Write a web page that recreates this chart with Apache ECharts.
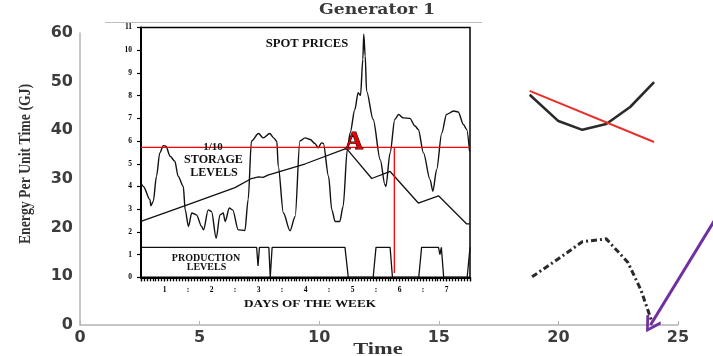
<!DOCTYPE html>
<html>
<head>
<meta charset="utf-8">
<script src="https://cdn.jsdelivr.net/npm/echarts@6/dist/echarts.min.js"></script>
<style>
  html, body { margin: 0; padding: 0; background: #fff; }
  #main { width: 713px; height: 356px; }
</style>
</head>
<body>
<div id="main"></div>
<script>
// outer chart (Generator 1)
const outerSolid = [[18.8, 47.3], [20, 41.9], [21, 40.1], [22, 41.3], [23, 44.8], [24, 49.9]];
const outerRed = [[18.8, 48.1], [24, 37.6]];
const outerDashDot = [[18.9, 9.9], [20, 13.6], [21, 17.1], [22, 17.7], [22.9, 12.9], [23.45, 7.2], [23.9, 0.8]];
const arrowPts = [[27.0, 25.3], [23.85, 0]];

// inset (spot prices over a week)
const dayLabels = ['1', '2', '3', '4', '5', '6', '7'];
const spotPrices = [
  [0, 4.15], [0.05, 4.0], [0.19, 3.42], [0.21, 3.15], [0.26, 3.34], [0.33, 4.45], [0.4, 5.48],
  [0.475, 5.8], [0.53, 5.77], [0.62, 5.33], [0.72, 5.11], [0.79, 4.45], [0.9, 4.0], [0.94, 2.97],
  [1.01, 2.24], [1.08, 2.83], [1.18, 2.75], [1.29, 2.24], [1.33, 2.09], [1.43, 2.97], [1.5, 2.9],
  [1.6, 1.72], [1.68, 2.75], [1.75, 2.83], [1.79, 2.46], [1.88, 3.05], [1.95, 2.97], [2.07, 2.09],
  [2.21, 2.06], [2.28, 3.42], [2.35, 6.0], [2.5, 6.33], [2.6, 6.14], [2.74, 6.33], [2.82, 6.14],
  [2.89, 5.99], [2.92, 4.89], [3.03, 2.83], [3.17, 2.05], [3.28, 2.68], [3.38, 6.0], [3.49, 6.14],
  [3.6, 6.07], [3.7, 5.89], [3.77, 5.7], [3.84, 5.92], [3.88, 5.89], [3.99, 4.45], [4.06, 2.97],
  [4.13, 2.46], [4.23, 2.46], [4.3, 3.12], [4.39, 5.63], [4.45, 6.36], [4.55, 7.39], [4.62, 8.13],
  [4.67, 8.01], [4.72, 9.6], [4.74, 10.7], [4.77, 9.75], [4.8, 8.2], [4.94, 6.95], [5.09, 5.18],
  [5.19, 4.08], [5.21, 4.0], [5.3, 5.48], [5.4, 6.95], [5.48, 7.17], [5.58, 7.02], [5.72, 7.0],
  [5.83, 6.66], [5.9, 6.51], [6.01, 5.48], [6.15, 4.3], [6.21, 3.79], [6.29, 4.74], [6.4, 6.36],
  [6.5, 7.17], [6.65, 7.32], [6.75, 7.28], [6.86, 6.73], [6.93, 6.51], [6.99, 5.55]
];
const storageLevels = [
  [0, 2.46], [1.0, 3.2], [2.0, 3.95], [2.35, 4.35], [2.5, 4.42], [2.6, 4.4], [2.7, 4.5],
  [3.5, 5.0], [4.37, 5.68], [4.91, 4.35], [5.3, 4.66], [5.9, 3.27], [6.33, 3.59], [6.93, 2.35], [7, 2.35]
];
const productionLevels = [
  [0, 1.32], [2.46, 1.32], [2.49, 0.5], [2.52, 1.32], [2.72, 1.32], [2.75, 0], [2.79, 1.32],
  [4.34, 1.32], [4.41, 0], [4.94, 0], [5.0, 1.32], [5.3, 1.32], [5.35, 0], [5.91, 0], [5.97, 1.32],
  [6.33, 1.32], [6.36, 1.0], [6.39, 1.32], [6.44, 0], [6.94, 0], [7, 1.32]
];
const redLevel = [[0, 5.72], [7, 5.72]];
const redDrop = [[5.39, 5.72], [5.39, 0.19]];

const chart = echarts.init(document.getElementById('main'));

const serif = 'Liberation Serif';
const sans = 'DejaVu Sans';

function insetLine(data, color, width, smooth) {
  return {
    type: 'line', xAxisIndex: 1, yAxisIndex: 1, data: data,
    symbol: 'none', silent: true, z: 5,
    smooth: smooth || false, smoothMonotone: 'x',
    lineStyle: { color: color, width: width }
  };
}

chart.setOption({
  animation: false,
  grid: [
    { left: 80, top: 33, width: 598, height: 292 },
    { left: 141, top: 27.5, width: 329, height: 249.8, show: true, borderColor: '#000', borderWidth: 1.5, backgroundColor: '#fff', z: 3 }
  ],
  xAxis: [
    {
      type: 'value', gridIndex: 0, min: 0, max: 25, interval: 5,
      axisLine: { lineStyle: { color: '#b4b4b4', width: 1.5 } },
      axisTick: { show: true, inside: true, length: 4, lineStyle: { color: '#b4b4b4' } },
      splitLine: { show: false },
      axisLabel: { color: '#3d3d3d', fontFamily: sans, fontWeight: 'bold', fontSize: 16, margin: 5 }
    },
    {
      type: 'value', gridIndex: 1, position: 'bottom', min: 0, max: 7, interval: 0.5, z: 4,
      axisLine: { lineStyle: { color: '#000', width: 2 } },
      axisTick: { show: true, length: 4, lineStyle: { color: '#000', width: 1.2 } },
      splitLine: { show: false },
      axisLabel: {
        color: '#000', fontFamily: serif, fontWeight: 'bold', fontSize: 7.5, margin: 9,
        formatter: function (v) {
          if (v === 0 || v === 7) return '';
          if (v % 1 === 0) return ':';
          return dayLabels[Math.floor(v)];
        }
      }
    },
    {
      // dense hour hatching under the inset axis
      type: 'value', gridIndex: 1, position: 'bottom', offset: 0, min: 0, max: 7, interval: 0.0625, z: 4,
      axisLine: { show: false },
      axisTick: { show: true, length: 4, lineStyle: { color: '#000', width: 1.3 } },
      axisLabel: { show: false },
      splitLine: { show: false }
    }
  ],
  yAxis: [
    {
      type: 'value', gridIndex: 0, min: 0, max: 60, interval: 10,
      axisLine: { show: true, lineStyle: { color: '#b4b4b4', width: 1.5 } },
      axisTick: { show: false },
      splitLine: { show: false },
      axisLabel: { color: '#3d3d3d', fontFamily: sans, fontWeight: 'bold', fontSize: 16, margin: 7 }
    },
    {
      type: 'value', gridIndex: 1, min: 0, max: 11, interval: 1, z: 4,
      axisLine: { show: true, lineStyle: { color: '#000', width: 2 } },
      axisTick: { show: true, length: 4, lineStyle: { color: '#000', width: 1.2 } },
      splitLine: { show: false },
      axisLabel: { color: '#000', fontFamily: serif, fontWeight: 'bold', fontSize: 7.5, margin: 9 }
    }
  ],
  series: [
    {
      type: 'line', xAxisIndex: 0, yAxisIndex: 0, data: outerSolid, symbol: 'none',
      lineStyle: { color: '#2a2a2a', width: 2.6 }
    },
    {
      type: 'line', xAxisIndex: 0, yAxisIndex: 0, data: outerRed, symbol: 'none',
      lineStyle: { color: '#e8302a', width: 2 }
    },
    {
      type: 'line', xAxisIndex: 0, yAxisIndex: 0, data: outerDashDot, symbol: 'none',
      lineStyle: { color: '#2a2a2a', width: 3, type: [6, 3, 2, 3] }
    },
    {
      type: 'lines', coordinateSystem: 'cartesian2d', xAxisIndex: 0, yAxisIndex: 0, clip: false,
      data: [{ coords: arrowPts }],
      symbol: ['none', 'path://M0,0 L9,11 L7,13 L0,4 L-7,13 L-9,11 Z'],
      symbolSize: 17,
      lineStyle: { color: '#7030a0', width: 3, opacity: 1 },
      z: 6
    },
    insetLine(spotPrices, '#111', 1.4, 0.3),
    insetLine(storageLevels, '#111', 1.3),
    insetLine(productionLevels, '#111', 1.3),
    insetLine(redLevel, '#ff0000', 1.3),
    insetLine(redDrop, '#ff0000', 1.3)
  ],
  graphic: [
    { type: 'line', shape: { x1: 105, y1: 22.5, x2: 482, y2: 22.5 }, style: { stroke: '#bdbdbd', lineWidth: 1 } },
    { type: 'text', x: 377, y: 18, scaleX: 1.15, style: { text: 'Generator 1', font: 'bold 15px "DejaVu Serif"', fill: '#3a3a3a', align: 'center', verticalAlign: 'bottom' } },
    { type: 'text', x: 26, y: 164, rotation: Math.PI / 2, scaleX: 0.86, style: { text: 'Energy Per Unit Time (GJ)', font: 'bold 16px "Liberation Serif"', fill: '#333', align: 'center', verticalAlign: 'middle' } },
    { type: 'text', x: 378, y: 350, scaleX: 1.4, style: { text: 'Time', font: 'bold 16px "Liberation Serif"', fill: '#333', align: 'center', verticalAlign: 'middle' } },
    { type: 'text', x: 307, y: 44, z: 10, scaleX: 1.1, style: { text: 'SPOT PRICES', font: 'bold 11.5px "Liberation Serif"', fill: '#111', align: 'center', verticalAlign: 'middle' } },
    { type: 'text', x: 213, y: 147, z: 10, style: { text: '1/10', font: 'bold 11px "Liberation Serif"', fill: '#111', align: 'center', verticalAlign: 'middle' } },
    { type: 'text', x: 213.5, y: 160, z: 10, scaleX: 1.05, style: { text: 'STORAGE', font: 'bold 11.5px "Liberation Serif"', fill: '#111', align: 'center', verticalAlign: 'middle' } },
    { type: 'text', x: 214, y: 172.7, z: 10, scaleX: 1.05, style: { text: 'LEVELS', font: 'bold 11.5px "Liberation Serif"', fill: '#111', align: 'center', verticalAlign: 'middle' } },
    { type: 'text', x: 206, y: 258.3, z: 10, style: { text: 'PRODUCTION', font: 'bold 10px "Liberation Serif"', fill: '#111', align: 'center', verticalAlign: 'middle' } },
    { type: 'text', x: 206.5, y: 267.5, z: 10, style: { text: 'LEVELS', font: 'bold 10px "Liberation Serif"', fill: '#111', align: 'center', verticalAlign: 'middle' } },
    { type: 'text', x: 310, y: 304, z: 10, scaleX: 1.2, style: { text: 'DAYS OF THE WEEK', font: 'bold 11px "Liberation Serif"', fill: '#111', align: 'center', verticalAlign: 'middle' } },
    { type: 'text', x: 354, y: 143, z: 10, style: { text: 'A', font: 'bold 25px "Liberation Serif"', fill: '#e00000', stroke: '#000', lineWidth: 1, align: 'center', verticalAlign: 'middle' } }
  ]
});
</script>
</body>
</html>
